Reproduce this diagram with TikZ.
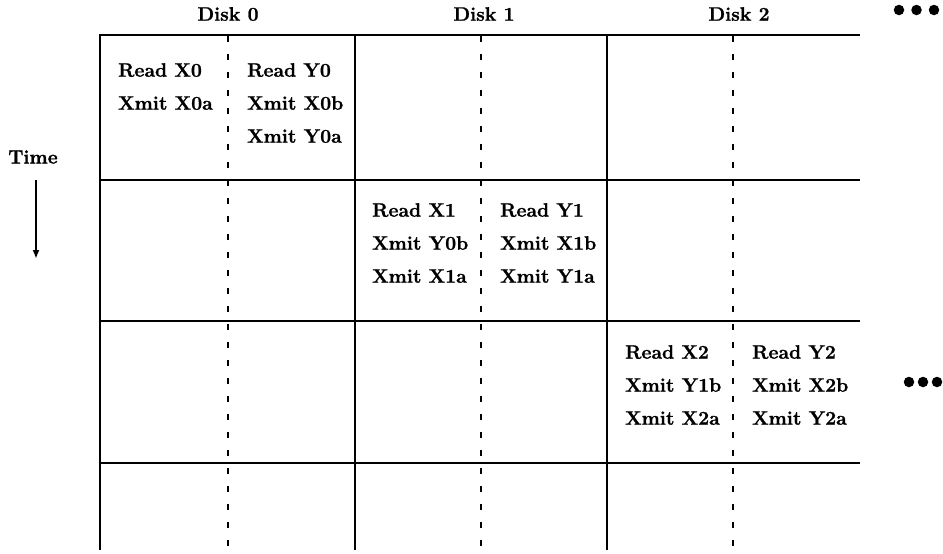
\documentclass[tikz,border=0pt]{standalone}
\usepackage{fontspec}
\setmainfont{Latin Modern Roman}[BoldFeatures={FakeBold=1.2}]
\usetikzlibrary{arrows.meta}
\begin{document}
\begin{tikzpicture}[x=1pt,y=-1pt,
  gridline/.style={line width=2.5pt},
  dashline/.style={line width=2pt, dash pattern=on 6pt off 12pt},
  lbl/.style={font=\fontsize{19.4}{33}\selectfont\bfseries, inner sep=0pt, align=left, anchor=north west},
  hdr/.style={font=\fontsize{19.4}{22}\selectfont\bfseries, inner sep=0pt},
  dot/.style={circle, fill=black, minimum size=10.5pt, inner sep=0pt}]
\useasboundingbox (0,0) rectangle (943,554);
% grid
\foreach \y in {35,180,321,463} \draw[gridline] (98.8,\y) -- (860,\y);
\foreach \x in {100,355,607} \draw[gridline] (\x,35) -- (\x,550);
\foreach \x in {228,481,733} \draw[dashline] (\x,36) -- (\x,550);
% headers
\node[hdr] (d0) at (228,14) {Disk 0};
\node[hdr] (d1) at (484,14) {Disk 1};
\node[hdr] (d2) at (739,14) {Disk 2};
\node[dot] (t1) at (899,10) {};
\node[dot] (t2) at (916.5,10) {};
\node[dot] (t3) at (934,10) {};
% time
\node[hdr] (time) at (33,157) {Time};
\coordinate (ts) at (36,180);
\coordinate (te) at (36,259);
\draw[line width=2.2pt, -{Latex[length=9pt,width=7pt]}] (ts) -- (te);
% cells
\node[lbl] (c00) at (118,63) {Read X0\\Xmit X0a};
\node[lbl] (c01) at (247,63) {Read Y0\\Xmit X0b\\Xmit Y0a};
\node[lbl] (c10) at (372,203) {Read X1\\Xmit Y0b\\Xmit X1a};
\node[lbl] (c11) at (500,203) {Read Y1\\Xmit X1b\\Xmit Y1a};
\node[lbl] (c20) at (625,345) {Read X2\\Xmit Y1b\\Xmit X2a};
\node[lbl] (c21) at (752,345) {Read Y2\\Xmit X2b\\Xmit Y2a};
\node[dot] (r1) at (909,382) {};
\node[dot] (r2) at (923,382) {};
\node[dot] (r3) at (937,382) {};
\end{tikzpicture}
\end{document}
